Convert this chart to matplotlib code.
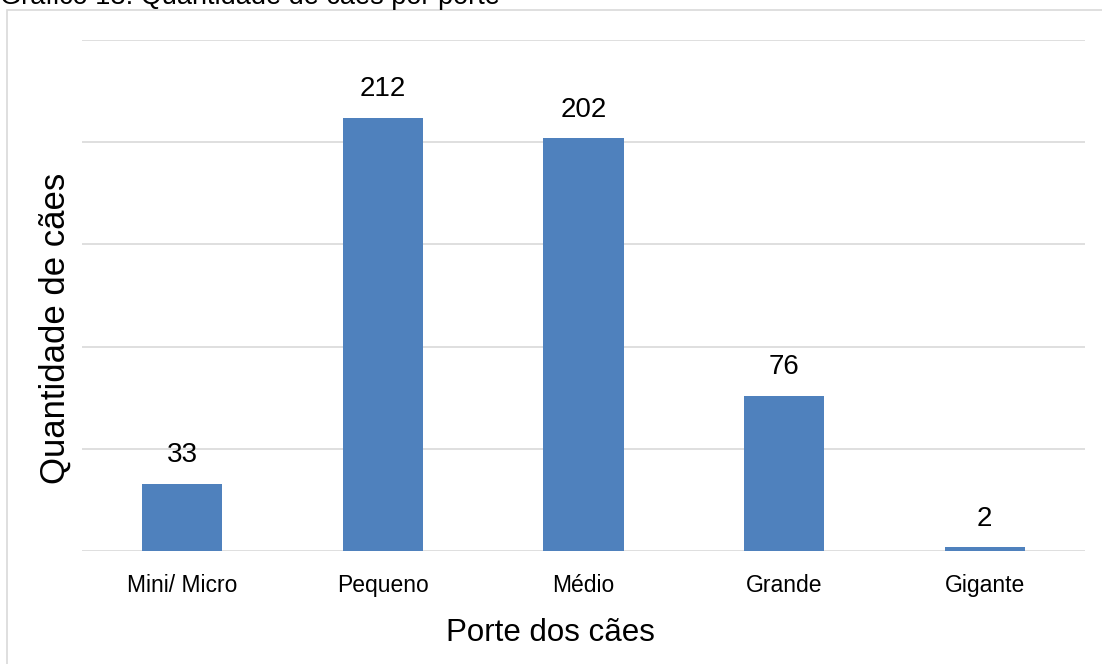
import matplotlib
matplotlib.use("Agg")
import matplotlib.pyplot as plt
from matplotlib.patches import Rectangle

categories = ["Mini/ Micro", "Pequeno", "Médio", "Grande", "Gigante"]
counts = [33, 212, 202, 76, 2]
title = "Gráfico 13: Quantidade de cães por porte"
xlabel = "Porte dos cães"
ylabel = "Quantidade de cães"

plt.rcParams["font.family"] = ["Liberation Sans", "DejaVu Sans"]

W, H = 1102, 664
fig = plt.figure(figsize=(W / 100, H / 100), dpi=100)

# outer chart frame (extends past the right and bottom edges)
fig.add_artist(Rectangle((7 / W, -0.1), 1.2, 1 - 9.5 / H + 0.1,
                         transform=fig.transFigure, fill=False,
                         edgecolor="#d9d9d9", linewidth=1.2))

# caption above the frame, partly cut off at the top
fig.text(0.0, 1 - 4 / H, title, fontsize=19.5, ha="left", va="baseline",
         color="#000000")

ax = fig.add_axes([82 / W, 1 - 551 / H, (1085 - 82) / W, (551 - 40) / H])
x = range(len(categories))
bars = ax.bar(x, counts, width=0.4, color="#4f81bd", zorder=3)
ax.set_xlim(-0.5, len(categories) - 0.5)
ax.set_ylim(0, 250)
ax.set_yticks(range(0, 251, 50))
ax.yaxis.grid(True, color="#d9d9d9", linewidth=1.2, zorder=0)
ax.tick_params(axis="y", left=False, labelleft=False)
ax.tick_params(axis="x", bottom=False, labelsize=16.5, pad=13)
ax.set_xticks(list(x))
ax.set_xticklabels(categories)
for s in ax.spines.values():
    s.set_visible(False)

for b, v in zip(bars, counts):
    ax.annotate(str(v), (b.get_x() + b.get_width() / 2, v),
                xytext=(0, 11), textcoords="offset points",
                ha="center", va="bottom", fontsize=20)

fig.text(550 / W, 1 - 633 / H, xlabel, fontsize=22.5, ha="center", va="center")
fig.text(55 / W, 1 - 328 / H, ylabel, fontsize=25, ha="center", va="center",
         rotation=90)

fig.savefig("out.png", dpi=100)
